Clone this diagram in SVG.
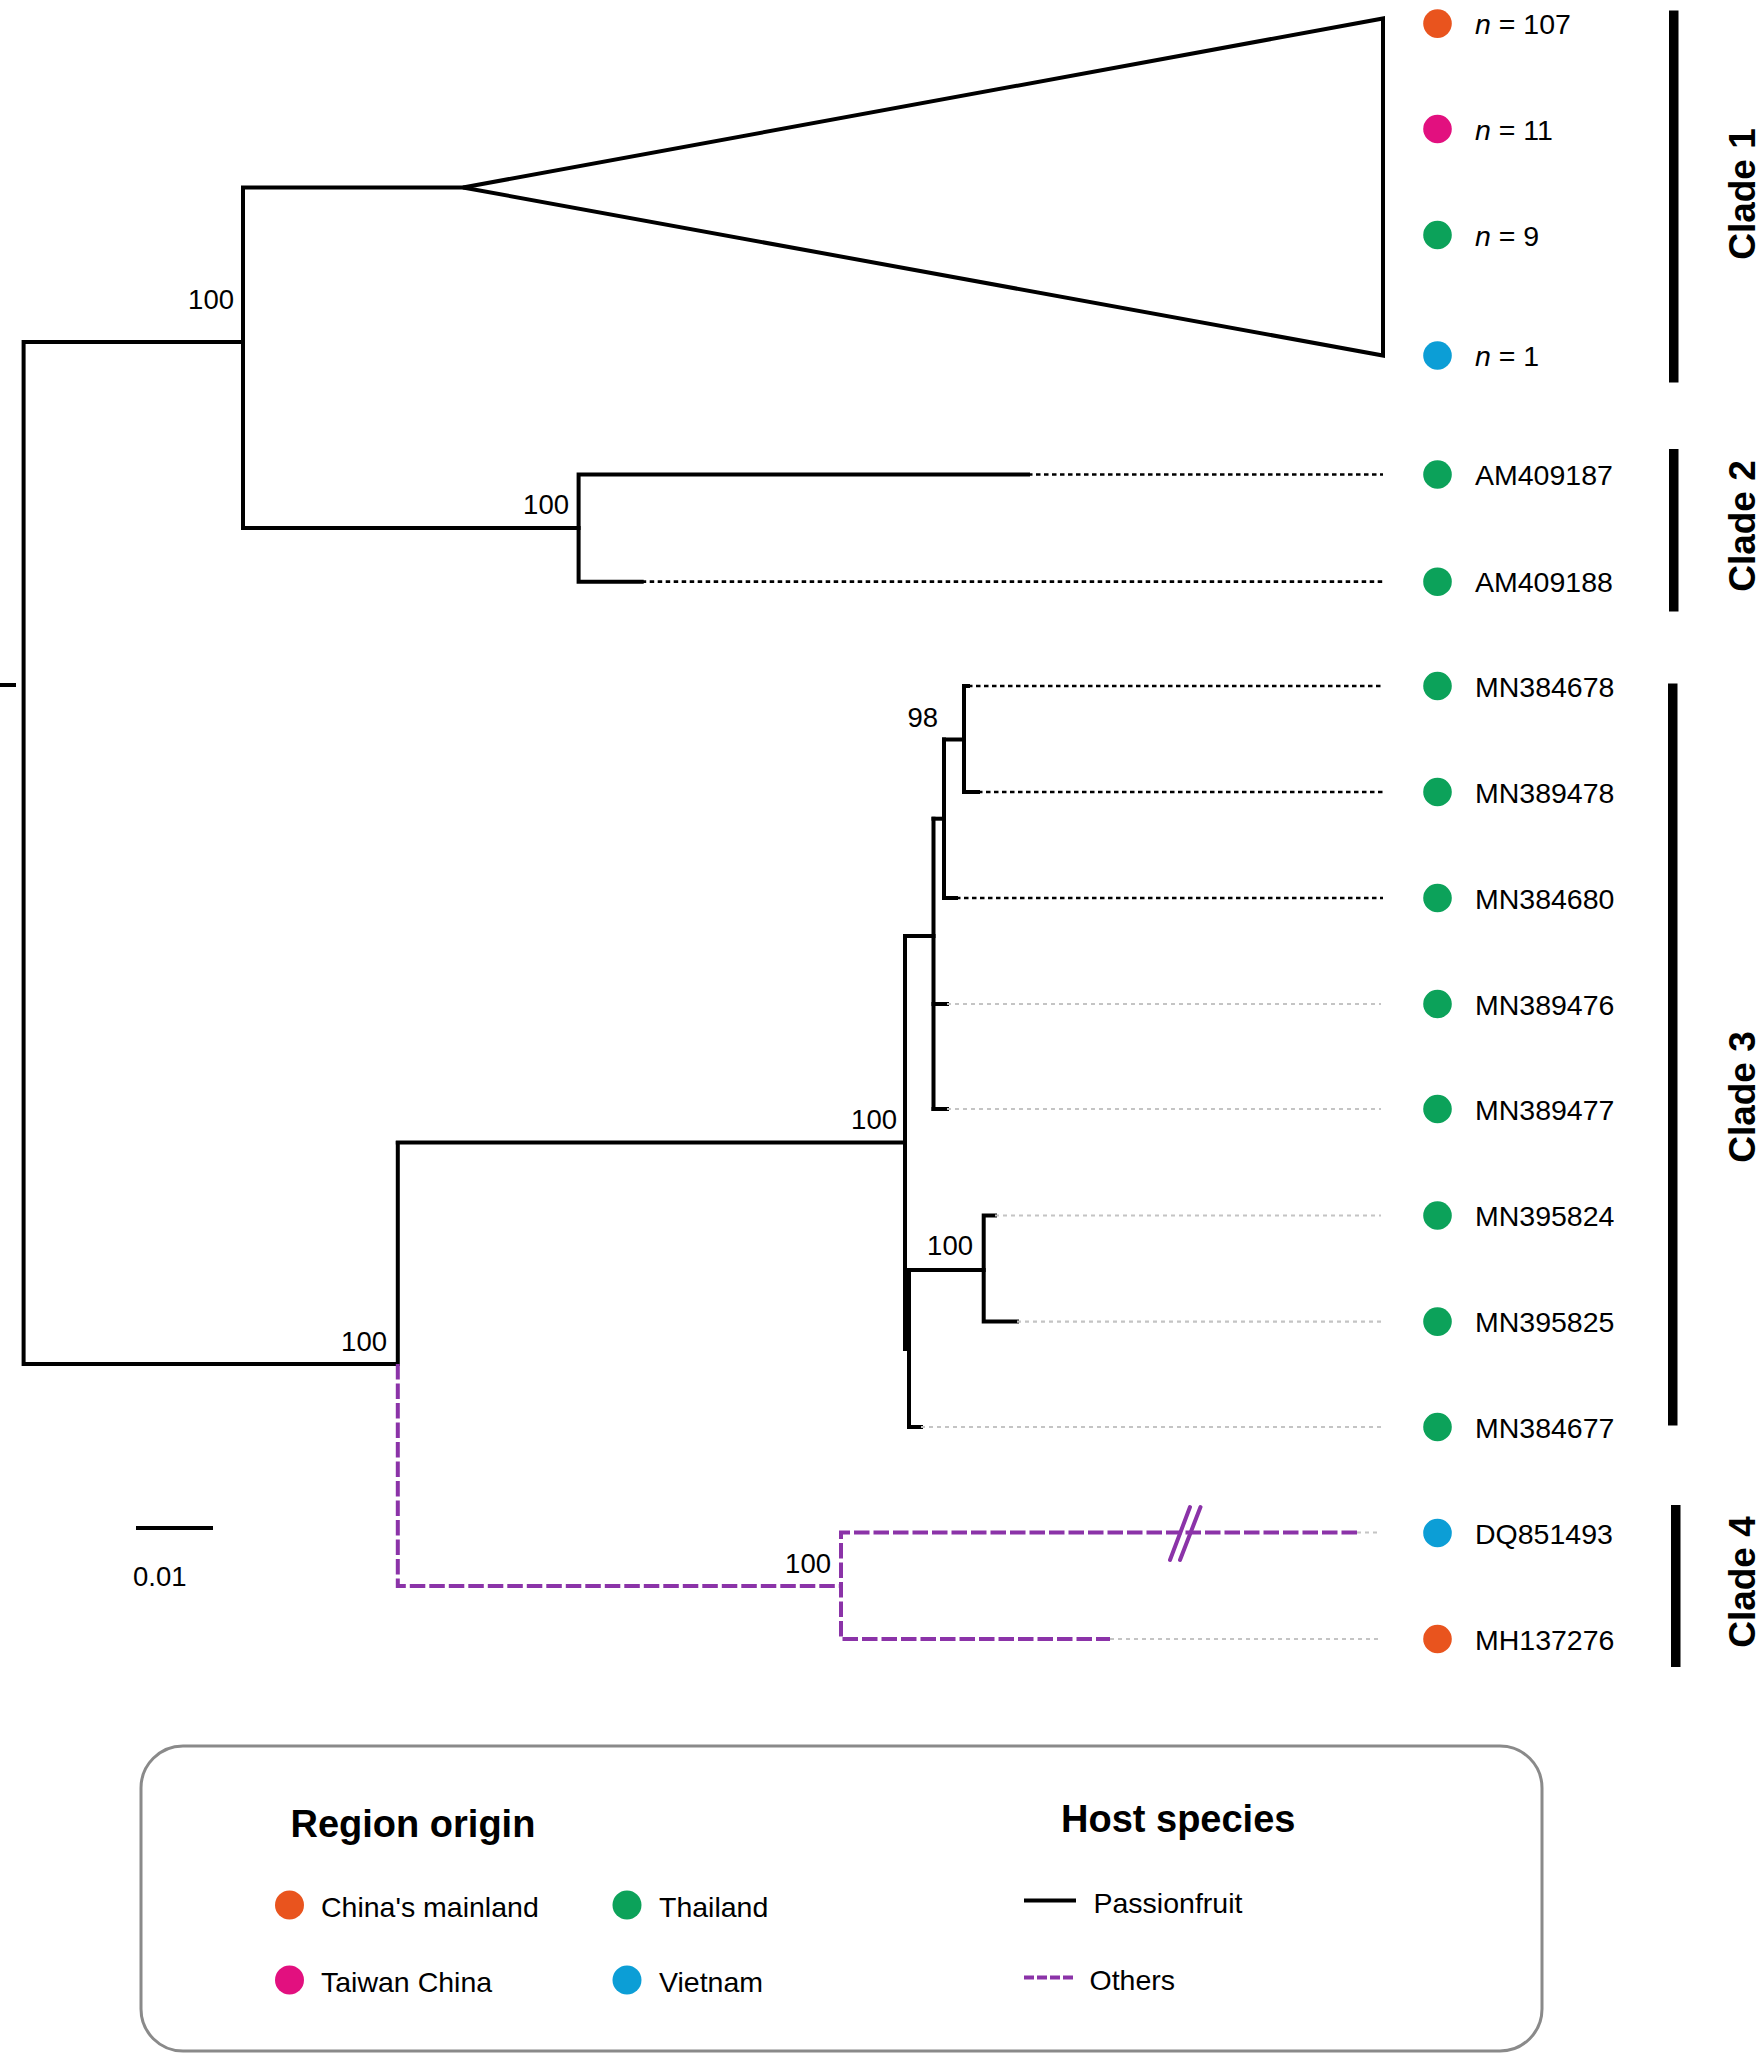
<svg xmlns="http://www.w3.org/2000/svg" width="1760" height="2053" viewBox="0 0 1760 2053">
<style>
.br{stroke:#000;stroke-width:4;fill:none;stroke-linecap:square;stroke-linejoin:miter}
.dk{stroke:#000;stroke-width:2.7;fill:none;stroke-dasharray:4.5 3.5}
.dg{stroke:#c4c4c4;stroke-width:2.2;fill:none;stroke-dasharray:4 4}
.pu{stroke:#8b33a8;stroke-width:4;fill:none;stroke-dasharray:15.5 4}
.bk{stroke:#8b33a8;stroke-width:4;fill:none;stroke-linecap:round}
.lb{font-family:"Liberation Sans",Arial,sans-serif;font-size:28.5px;fill:#000}
.bs{font-family:"Liberation Sans",Arial,sans-serif;font-size:27.5px;fill:#000;text-anchor:end}
.cl{font-family:"Liberation Sans",Arial,sans-serif;font-size:37px;font-weight:bold;fill:#000;text-anchor:middle}
.lh{font-family:"Liberation Sans",Arial,sans-serif;font-size:38px;font-weight:bold;fill:#000}
.o{fill:#e9541e}.m{fill:#e2107f}.g{fill:#0ca25a}.b{fill:#0c9ed6}
</style>

<g id="connectors">
  <!-- root -->
  <line class="br" x1="0" y1="685" x2="14" y2="685"/>
  <path class="br" d="M243 342 H23.6 V1364 H397.8 V1143"/>
  <!-- clade 1+2 node -->
  <path class="br" d="M463 187.5 H243 V528 H578.6"/>
  <!-- clade 1 collapsed triangle -->
  <polygon class="br" points="463,187.5 1383,18.5 1383,355.5"/>
  <!-- clade 2 -->
  <path class="br" d="M1028 474.5 H578.6 V581.7 H641.7"/>
  <line class="dk" x1="1028" y1="474.5" x2="1383" y2="474.5"/>
  <line class="dk" x1="641.7" y1="581.7" x2="1383" y2="581.7"/>
  <!-- clade 3 -->
  <path class="br" d="M397.8 1142.6 H905"/>
  <path class="br" d="M905 936 V1349 H909"/>
  <path class="br" d="M905 936 H933.5"/>
  <path class="br" d="M933.5 818.7 V1109"/>
  <path class="br" d="M933.5 818.7 H944"/>
  <path class="br" d="M944 739.5 V898 H956"/>
  <path class="br" d="M944 739.5 H964"/>
  <path class="br" d="M968 686 H964 V792 H978"/>
  <path class="br" d="M933.5 1004 H947"/>
  <path class="br" d="M933.5 1109 H947"/>
  <path class="br" d="M909 1270 V1427 H921"/>
  <path class="br" d="M909 1270 H983.7"/>
  <path class="br" d="M995 1215.5 H983.7 V1321.6 H1017"/>
  <line class="dk" x1="968" y1="686" x2="1383" y2="686"/>
  <line class="dk" x1="978" y1="792" x2="1383" y2="792"/>
  <line class="dk" x1="956" y1="898" x2="1383" y2="898"/>
  <line class="dg" x1="947" y1="1004" x2="1381" y2="1004"/>
  <line class="dg" x1="947" y1="1109" x2="1381" y2="1109"/>
  <line class="dg" x1="995" y1="1215.5" x2="1381" y2="1215.5"/>
  <line class="dg" x1="1017" y1="1321.6" x2="1381" y2="1321.6"/>
  <line class="dg" x1="921" y1="1427" x2="1381" y2="1427"/>
  <!-- clade 4 (others) -->
  <path class="pu" d="M397.8 1364 V1586 H841"/>
  <path class="pu" d="M1357 1532.5 H841 V1639 H1110"/>
  <line class="dg" x1="1357" y1="1532.5" x2="1381" y2="1532.5"/>
  <line class="dg" x1="1110" y1="1639" x2="1381" y2="1639"/>
  <line class="bk" x1="1170" y1="1560" x2="1190" y2="1507"/>
  <line class="bk" x1="1180" y1="1560" x2="1200.5" y2="1507"/>
</g>

<g id="bootstrap">
  <text class="bs" x="234" y="309">100</text>
  <text class="bs" x="569" y="513.6">100</text>
  <text class="bs" x="938" y="727">98</text>
  <text class="bs" x="897" y="1129">100</text>
  <text class="bs" x="973" y="1255">100</text>
  <text class="bs" x="387" y="1351">100</text>
  <text class="bs" x="831" y="1573">100</text>
</g>

<g id="scalebar">
  <line class="br" x1="138" y1="1528" x2="211" y2="1528"/>
  <text class="lb" x="133" y="1586" style="font-size:27.5px">0.01</text>
</g>

<g id="tip-clade1-n107"><circle class="o" cx="1437.5" cy="23.6" r="14.3"/><text class="lb" x="1475" y="34"><tspan font-style="italic">n</tspan> = 107</text></g>
<g id="tip-clade1-n11"><circle class="m" cx="1437.5" cy="129" r="14.3"/><text class="lb" x="1475" y="139.5"><tspan font-style="italic">n</tspan> = 11</text></g>
<g id="tip-clade1-n9"><circle class="g" cx="1437.5" cy="235" r="14.3"/><text class="lb" x="1475" y="245.5"><tspan font-style="italic">n</tspan> = 9</text></g>
<g id="tip-clade1-n1"><circle class="b" cx="1437.5" cy="355.5" r="14.3"/><text class="lb" x="1475" y="366"><tspan font-style="italic">n</tspan> = 1</text></g>
<g id="tip-AM409187"><circle class="g" cx="1437.5" cy="474.5" r="14.3"/><text class="lb" x="1475" y="485">AM409187</text></g>
<g id="tip-AM409188"><circle class="g" cx="1437.5" cy="581.7" r="14.3"/><text class="lb" x="1475" y="592.2">AM409188</text></g>
<g id="tip-MN384678"><circle class="g" cx="1437.5" cy="686" r="14.3"/><text class="lb" x="1475" y="696.5">MN384678</text></g>
<g id="tip-MN389478"><circle class="g" cx="1437.5" cy="792" r="14.3"/><text class="lb" x="1475" y="802.5">MN389478</text></g>
<g id="tip-MN384680"><circle class="g" cx="1437.5" cy="898" r="14.3"/><text class="lb" x="1475" y="908.5">MN384680</text></g>
<g id="tip-MN389476"><circle class="g" cx="1437.5" cy="1004" r="14.3"/><text class="lb" x="1475" y="1014.5">MN389476</text></g>
<g id="tip-MN389477"><circle class="g" cx="1437.5" cy="1109" r="14.3"/><text class="lb" x="1475" y="1119.5">MN389477</text></g>
<g id="tip-MN395824"><circle class="g" cx="1437.5" cy="1215.5" r="14.3"/><text class="lb" x="1475" y="1226">MN395824</text></g>
<g id="tip-MN395825"><circle class="g" cx="1437.5" cy="1321.6" r="14.3"/><text class="lb" x="1475" y="1332">MN395825</text></g>
<g id="tip-MN384677"><circle class="g" cx="1437.5" cy="1427" r="14.3"/><text class="lb" x="1475" y="1437.5">MN384677</text></g>
<g id="tip-DQ851493"><circle class="b" cx="1437.5" cy="1533" r="14.3"/><text class="lb" x="1475" y="1544">DQ851493</text></g>
<g id="tip-MH137276"><circle class="o" cx="1437.5" cy="1639" r="14.3"/><text class="lb" x="1475" y="1650">MH137276</text></g>

<g id="clade1"><rect x="1669" y="10.5" width="9.5" height="372" fill="#000"/><text class="cl" transform="translate(1755,194) rotate(-90)">Clade 1</text></g>
<g id="clade2"><rect x="1669" y="449" width="9.5" height="162.5" fill="#000"/><text class="cl" transform="translate(1755,526) rotate(-90)">Clade 2</text></g>
<g id="clade3"><rect x="1668" y="683.5" width="9.5" height="742" fill="#000"/><text class="cl" transform="translate(1755,1097) rotate(-90)">Clade 3</text></g>
<g id="clade4"><rect x="1671" y="1505" width="9.5" height="162" fill="#000"/><text class="cl" transform="translate(1755,1582) rotate(-90)">Clade 4</text></g>

<g id="legend">
  <rect x="141" y="1746" width="1401" height="305" rx="42" ry="42" fill="none" stroke="#8a8a8a" stroke-width="3"/>
  <text class="lh" x="290.5" y="1837">Region origin</text>
  <text class="lh" x="1061" y="1832">Host species</text>
  <circle class="o" cx="289.5" cy="1905" r="14.5"/><text class="lb" x="321" y="1916.5">China's mainland</text>
  <circle class="g" cx="627" cy="1905" r="14.5"/><text class="lb" x="659" y="1916.5">Thailand</text>
  <circle class="m" cx="289.5" cy="1980" r="14.5"/><text class="lb" x="321" y="1991.5">Taiwan China</text>
  <circle class="b" cx="627" cy="1980" r="14.5"/><text class="lb" x="659" y="1991.5">Vietnam</text>
  <line x1="1024" y1="1900.5" x2="1076" y2="1900.5" stroke="#000" stroke-width="4"/>
  <text class="lb" x="1093.5" y="1913">Passionfruit</text>
  <line x1="1024" y1="1977.5" x2="1076" y2="1977.5" stroke="#8b33a8" stroke-width="4" stroke-dasharray="10 3"/>
  <text class="lb" x="1089.5" y="1989.5">Others</text>
</g>
</svg>
